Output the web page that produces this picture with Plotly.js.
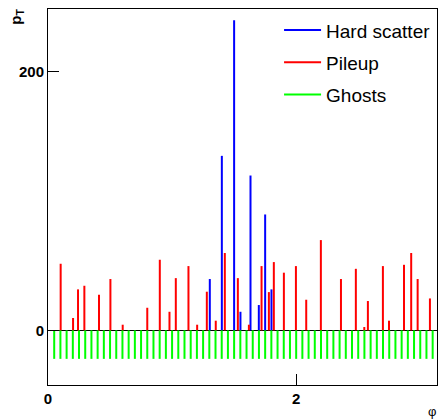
<!DOCTYPE html>
<html><head><meta charset="utf-8">
<script src="https://cdn.plot.ly/plotly-3.0.1.min.js"></script>
<style>html,body{margin:0;padding:0;background:#fff}#chart{width:438px;height:420px}</style>
</head><body><div id="chart"></div>
<script>
// ---- data ----
const seriesNames = ['Hard scatter', 'Pileup', 'Ghosts'];
const hardPhi = [1.304, 1.401, 1.500, 1.551, 1.632, 1.699, 1.750, 1.801];
const hardPt  = [39.7, 134.9, 239.7, 14.4, 119.7, 19.6, 89.6, 31.7];
const pileupPhi = [0.102, 0.202, 0.242, 0.293, 0.411, 0.503, 0.602, 0.800, 0.901, 0.979,
                   1.030, 1.132, 1.202, 1.280, 1.352, 1.425, 1.530, 1.619, 1.721, 1.780,
                   1.820, 1.901, 1.998, 2.081, 2.199, 2.361, 2.481, 2.549, 2.578, 2.699,
                   2.748, 2.869, 2.927, 2.979, 3.078];
const pileupPt  = [51.5, 9.6, 31.7, 34.5, 27.6, 39.7, 4.4, 17.5, 54.6, 14.4,
                   40.4, 49.7, 4.4, 29.9, 7.5, 59.8, 40.4, 4.4, 49.7, 29.6,
                   52.8, 44.6, 49.7, 23.7, 69.8, 39.7, 47.6, 2.6, 22.7, 49.7,
                   7.5, 50.7, 59.8, 39.7, 24.7];
const ghostPhi = [0.05, 0.10, 0.15, 0.20, 0.25, 0.30, 0.35, 0.40, 0.45, 0.50,
                  0.55, 0.60, 0.65, 0.70, 0.75, 0.80, 0.85, 0.90, 0.95, 1.00,
                  1.05, 1.10, 1.15, 1.20, 1.25, 1.30, 1.35, 1.40, 1.45, 1.50,
                  1.55, 1.60, 1.65, 1.70, 1.75, 1.80, 1.85, 1.90, 1.95, 2.00,
                  2.05, 2.10, 2.15, 2.20, 2.25, 2.30, 2.35, 2.40, 2.45, 2.50,
                  2.55, 2.60, 2.65, 2.70, 2.75, 2.80, 2.85, 2.90, 2.95, 3.00,
                  3.05, 3.10];
const ghostPt = [-22, -22, -22, -22, -22, -22, -22, -22, -22, -22,
                 -22, -22, -22, -22, -22, -22, -22, -22, -22, -22,
                 -22, -22, -22, -22, -22, -22, -22, -22, -22, -22,
                 -22, -22, -22, -22, -22, -22, -22, -22, -22, -22,
                 -22, -22, -22, -22, -22, -22, -22, -22, -22, -22,
                 -22, -22, -22, -22, -22, -22, -22, -22, -22, -22,
                 -22, -22];
const xTickVals = [0, 2];
const xTickText = ['0', '2'];
const yTickVals = [0, 200];
const yTickText = ['0', '200'];
const xTitle = 'φ';
const yTitle = '<b>p<sub>T</sub></b>';

// ---- build spike segments ----
function spikes(xs, ys) {
  const x = [], y = [];
  for (let i = 0; i < xs.length; i++) { x.push(xs[i], xs[i], null); y.push(0, ys[i], null); }
  return {x, y};
}
const colors = ['#0000ff', '#ff0000', '#00ff00'];
const sets = [[hardPhi, hardPt], [pileupPhi, pileupPt], [ghostPhi, ghostPt]];
const traces = sets.map((s, i) => {
  const seg = spikes(s[0], s[1]);
  return {type: 'scatter', mode: 'lines', x: seg.x, y: seg.y, name: seriesNames[i],
          legendgroup: 'g' + i, line: {color: colors[i], width: 2}, hoverinfo: 'skip'};
});

const font = 'Liberation Sans, Arial, Helvetica, sans-serif';
const axisCommon = {
  showline: true, mirror: true, linecolor: '#000', linewidth: 1,
  ticks: 'inside', ticklen: 11, tickwidth: 1, tickcolor: '#000',
  showgrid: false, tickmode: 'array',
  tickfont: {family: font, size: 15, color: '#000', weight: 'bold'}
};
const layout = {
  width: 438, height: 420,
  margin: {l: 48, r: 1, t: 9, b: 35},
  paper_bgcolor: '#fff', plot_bgcolor: '#fff',
  xaxis: Object.assign({}, axisCommon, {range: [0, 3.135], tickvals: xTickVals, ticktext: xTickText, zeroline: false}),
  yaxis: Object.assign({}, axisCommon, {range: [-42.2, 248.4], tickvals: yTickVals, ticktext: yTickText,
          zeroline: true, zerolinecolor: '#000', zerolinewidth: 1.5}),
  showlegend: true,
  legend: {x: 0.594, y: 0.994, xanchor: 'left', yanchor: 'top', bgcolor: 'rgba(0,0,0,0)',
           font: {family: font, size: 19, color: '#000'}, itemwidth: 37, tracegroupgap: 4.5,
           traceorder: 'grouped'},
  annotations: [
    {text: yTitle, xref: 'paper', yref: 'paper', x: -0.081, y: 0.981, xanchor: 'center', yanchor: 'middle',
     textangle: -90, showarrow: false, font: {family: font, size: 15, color: '#000'}},
    {text: xTitle, xref: 'paper', yref: 'paper', x: 0.986, y: -0.071, xanchor: 'center', yanchor: 'middle',
     showarrow: false, font: {family: font, size: 13, color: '#000'}}
  ]
};
Plotly.newPlot('chart', traces, layout, {staticPlot: true, displayModeBar: false});
</script>
</body></html>
